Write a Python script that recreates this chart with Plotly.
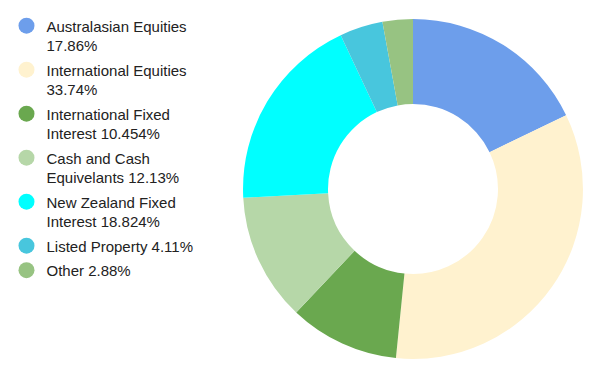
import plotly.graph_objects as go

categories = ["Australasian Equities", "International Equities", "International Fixed Interest",
              "Cash and Cash Equivelants", "New Zealand Fixed Interest", "Listed Property", "Other"]
values = [17.86, 33.74, 10.454, 12.13, 18.824, 4.11, 2.88]
legend_labels = ["Australasian Equities<br>17.86%", "International Equities<br>33.74%",
                 "International Fixed<br>Interest 10.454%", "Cash and Cash<br>Equivelants 12.13%",
                 "New Zealand Fixed<br>Interest 18.824%", "Listed Property 4.11%", "Other 2.88%"]
colors = ["#6d9eeb", "#fff2cf", "#6aa84f", "#b6d7a8", "#00ffff", "#48c6dd", "#97c382"]

fig = go.Figure()
fig.add_trace(go.Pie(
    labels=categories, values=values, hole=0.5, sort=False, direction="clockwise",
    rotation=0, marker=dict(colors=colors, line=dict(width=0)),
    textinfo="none", showlegend=False, hoverinfo="label+percent",
    domain=dict(x=[0.3904, 0.9551], y=[0.0714, 0.9709]),
))
for i, (lab, col) in enumerate(zip(legend_labels, colors)):
    fig.add_trace(go.Scatter(x=[None], y=[None], mode="markers", name=lab,
                             legendgroup=str(i),
                             marker=dict(color=col, size=16, symbol="circle")))

fig.update_layout(
    width=602, height=378, margin=dict(l=0, r=0, t=0, b=0, autoexpand=False),
    paper_bgcolor="white", plot_bgcolor="white",
    font=dict(family="Liberation Sans, Arial, sans-serif", size=15, color="#222222"),
    xaxis=dict(visible=False), yaxis=dict(visible=False),
    legend=dict(x=-0.0025, y=0.9963, xanchor="left", yanchor="top", itemsizing="trace",
                valign="top", tracegroupgap=2, bgcolor="rgba(0,0,0,0)"),
)
fig.write_html("out.html")
